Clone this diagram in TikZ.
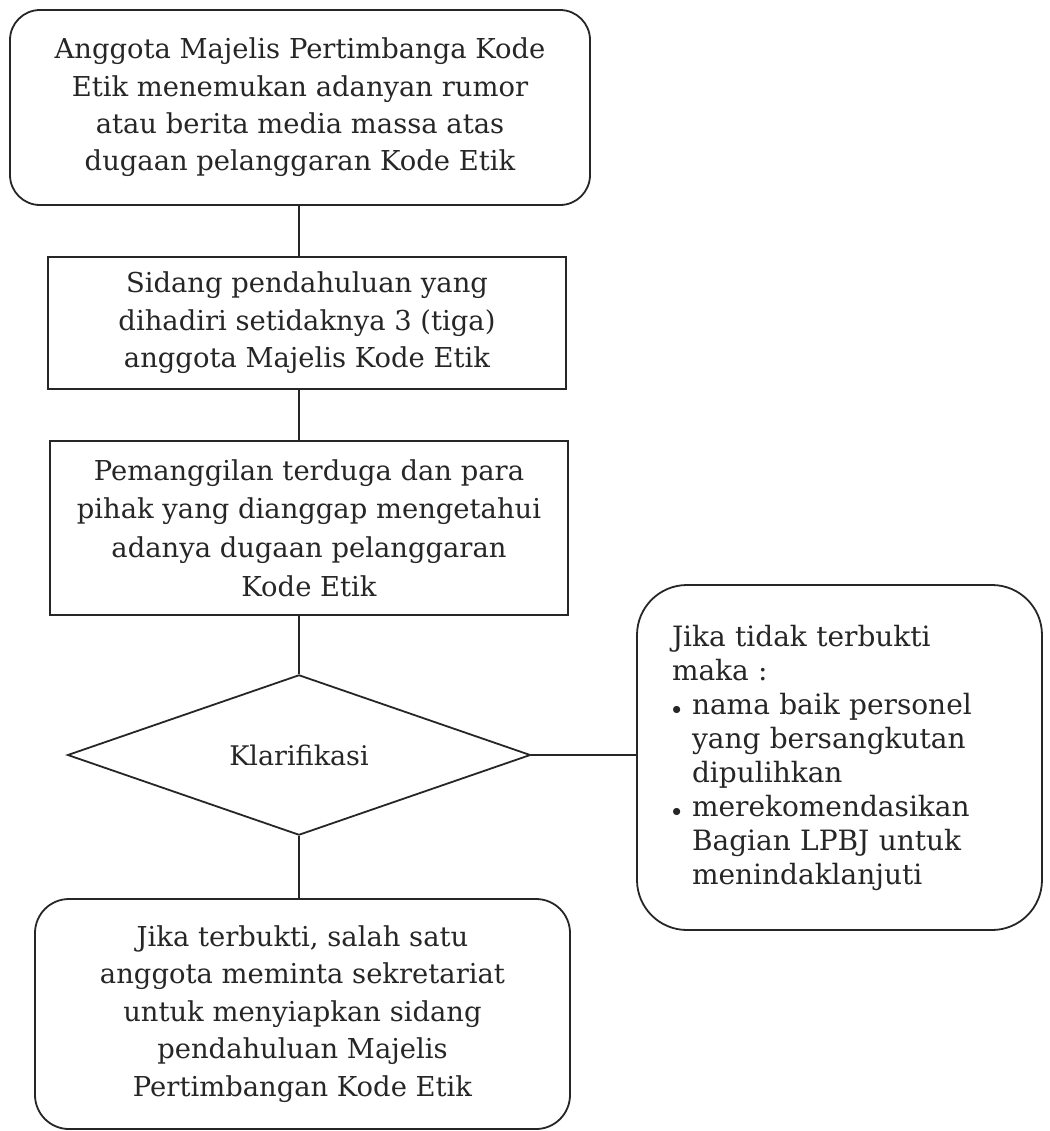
\documentclass[tikz,border=0pt]{standalone}
\usepackage{fontspec}
\setmainfont{DejaVu Serif}
\usetikzlibrary{shapes.geometric, positioning, calc}

\newcommand{\bul}{\makebox[10pt][l]{\small$\bullet$}}
\newcommand{\bulind}{\hspace*{10pt}}

\begin{document}
\begin{tikzpicture}[x=0.5pt, y=-0.5pt,
        box/.style={rectangle, draw=black!85, line width=0.9pt, align=center, text=black!85, inner sep=0pt, font=\fontsize{13.7}{18.7}\selectfont},
        roundbox/.style={box, rounded corners=15pt},
        decision/.style={diamond, draw=black!85, line width=0.9pt, inner sep=0pt, text=black!85, font=\fontsize{13.5}{18.5}\selectfont},
        line/.style={draw=black!85, line width=0.9pt}
    ]
    \useasboundingbox (0,0) rectangle (1050,1131);

    % Main column
    \node[roundbox, minimum width=290pt, minimum height=97.5pt] (rumor) at (300, 107.5) {Anggota Majelis Pertimbanga Kode\\Etik menemukan adanyan rumor\\atau berita media massa atas\\dugaan pelanggaran Kode Etik};
    \node[box, minimum width=259pt, minimum height=66pt] (sidang) at (307, 323) {Sidang pendahuluan yang\\dihadiri setidaknya 3 (tiga)\\anggota Majelis Kode Etik};
    \node[box, minimum width=259pt, minimum height=87pt, font=\fontsize{13.7}{19.3}\selectfont] (panggil) at (309, 528) {Pemanggilan terduga dan para\\pihak yang dianggap mengetahui\\adanya dugaan pelanggaran\\Kode Etik};
    \node[decision, minimum width=231.5pt, minimum height=76pt] (klarif) at (299, 755) {Klarifikasi};
    \node[roundbox, rounded corners=17pt, minimum width=267.5pt, minimum height=115pt] (terbukti) at (302.5, 1014) {Jika terbukti, salah satu\\anggota meminta sekretariat\\untuk menyiapkan sidang\\pendahuluan Majelis\\Pertimbangan Kode Etik};

    % Side branch
    \node[roundbox, rounded corners=25pt, align=left, inner xsep=17.5pt, text width=167.5pt, minimum height=172.5pt, font=\fontsize{14}{17}\selectfont] (tidak) at (839.5, 757.5) {Jika tidak terbukti\\maka :\\\bul nama baik personel\\\bulind yang bersangkutan\\\bulind dipulihkan\\\bul merekomendasikan\\\bulind Bagian LPBJ untuk\\\bulind menindaklanjuti};

    % Connectors
    \draw[line] (rumor.south -| klarif.north) -- (sidang.north -| klarif.north);
    \draw[line] (sidang.south -| klarif.north) -- (panggil.north -| klarif.north);
    \draw[line] (panggil.south -| klarif.north) -- (klarif.north);
    \draw[line] (klarif.south) -- (terbukti.north -| klarif.south);
    \draw[line] (klarif.east) -- (tidak.west |- klarif.east);

\end{tikzpicture}
\end{document}
